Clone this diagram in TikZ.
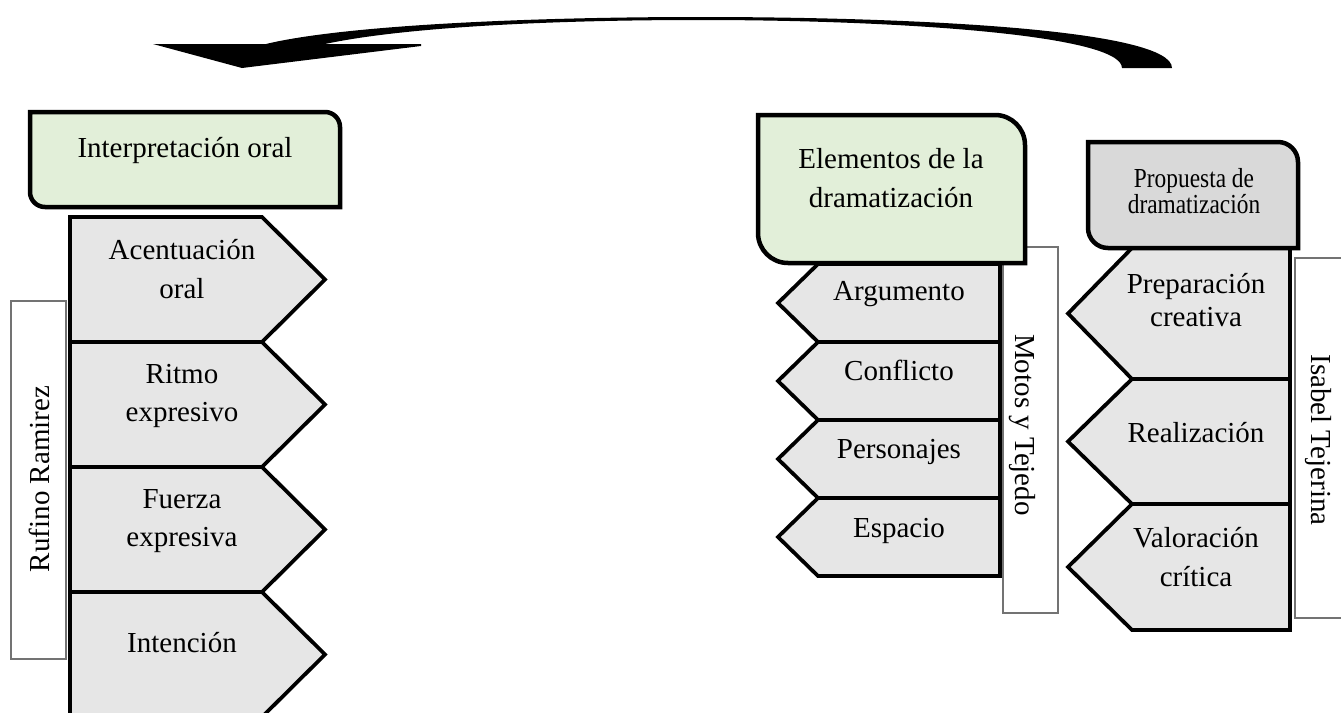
\documentclass[tikz,border=0pt]{standalone}
\usepackage{fontspec}
\setmainfont{Liberation Serif}
\usepackage{tikz}

\definecolor{boxgreen}{HTML}{E2EFD9}
\definecolor{tabgray}{HTML}{E6E6E6}
\definecolor{headgray}{HTML}{D9D9D9}

\tikzset{
  tabshape/.style={draw=black, line width=1.5pt, fill=tabgray, line join=miter},
  headbox/.style={draw=black, line width=1.8pt},
  sidebox/.style={draw=black!55, line width=0.5pt, fill=white},
  labeltext/.style={align=center, inner sep=0pt, font=\fontsize{11.6}{15.5}\selectfont},
}

\begin{document}
\begin{tikzpicture}[x=0.4pt, y=-0.4pt]
  \useasboundingbox (0,0) rectangle (1341,713);
  \clip (0,0) rectangle (1341,713);

  % Curved arrow
  \fill (153,44) -- (242,68) -- (421,46) -- (421,44) -- (325,44)
    .. controls (400,28) and (540,20) .. (700,20)
    .. controls (900,20) and (1122,35) .. (1122,68) -- (1172,68)
    .. controls (1172,30) and (920,17) .. (700,17)
    .. controls (520,17) and (340,26) .. (266,44) -- cycle;

  % Side boxes
  \draw[sidebox] (11,301) rectangle (66,659);
  \draw[sidebox] (1003,247) rectangle (1058,613);
  \draw[sidebox] (1295,258) rectangle (1360,618);
  \node[labeltext, rotate=90] (rufino) at (39,479) {Rufino Ramirez};
  \node[labeltext, rotate=-90] (motos) at (1022,425) {Motos y Tejedo};
  \node[labeltext, rotate=-90] (isabel) at (1318,440) {Isabel Tejerina};

  % Left tabs
  \foreach \i/\top/\ty/\name in {1/217/269/{Acentuación\\oral}, 2/342/396/{Ritmo\\expresivo},
                                 3/467/521/{Fuerza\\expresiva}, 4/592/643/{Intención}}{
    \draw[tabshape] (70,\top) -- (262,\top) -- (325,\top+62.5) -- (262,\top+125) -- (70,\top+125) -- cycle;
    \node[labeltext] (oral\i) at (182,\ty) {\name};
  }

  % Middle tabs
  \foreach \i/\top/\ty/\name in {1/264/294/Argumento, 2/342/370/Conflicto,
                                 3/420/452/Personajes, 4/498/531/Espacio}{
    \draw[tabshape] (1000,\top) -- (818,\top) -- (778,\top+39) -- (818,\top+78) -- (1000,\top+78) -- cycle;
    \node[labeltext] (elem\i) at (899,\ty) {\name};
  }

  % Right tabs
  \foreach \i/\top/\bot/\ty/\name in {1/248/379/300/{Preparación\\[-2.3pt]creativa},
                                      2/379/504/433/{Realización},
                                      3/504/630/557/{Valoración\\crítica}}{
    \draw[tabshape] (1290,\top) -- (1132,\top) -- (1068,{(\top+\bot)/2}) -- (1132,\bot) -- (1290,\bot) -- cycle;
    \node[labeltext] (prop\i) at (1196,\ty) {\name};
  }

  % Head boxes
  \draw[headbox, fill=boxgreen] (30,112) -- (325,112) .. controls (333.3,112) and (340,118.7) .. (340,127)
    -- (340,207) -- (45,207) .. controls (36.7,207) and (30,200.3) .. (30,192) -- cycle;
  \draw[headbox, fill=boxgreen] (758,115) -- (995,115) .. controls (1011.6,115) and (1025,128.4) .. (1025,145)
    -- (1025,263) -- (788,263) .. controls (771.4,263) and (758,249.6) .. (758,233) -- cycle;
  \draw[headbox, fill=headgray] (1088,142) -- (1278,142) .. controls (1289,142) and (1298,151) .. (1298,162)
    -- (1298,248) -- (1108,248) .. controls (1097,248) and (1088,239) .. (1088,228) -- cycle;

  \node[labeltext] (interp) at (185,151) {Interpretación oral};
  \node[labeltext] (elementos) at (891,178) {Elementos de la\\dramatización};
  \node[labeltext, font=\fontsize{11}{10.4}\selectfont, transform shape, xscale=0.85] (propuesta) at (1194,191)
    {Propuesta de\\dramatización};

\end{tikzpicture}
\end{document}
